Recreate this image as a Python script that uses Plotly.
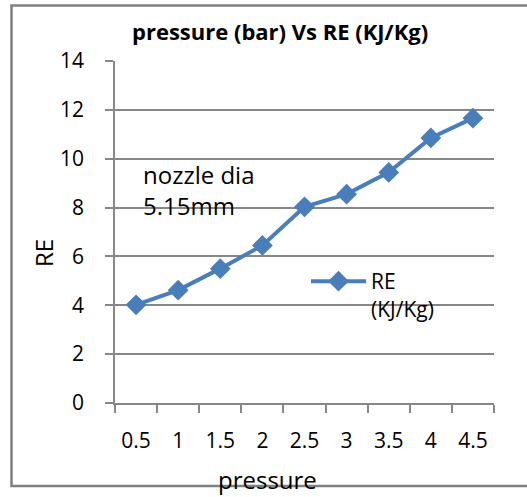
import plotly.graph_objects as go

pressure = ["0.5", "1", "1.5", "2", "2.5", "3", "3.5", "4", "4.5"]
re_values = [4.02, 4.62, 5.5, 6.45, 8.03, 8.55, 9.44, 10.85, 11.66]
y_ticks = [0, 2, 4, 6, 8, 10, 12, 14]

FONT = "Open Sans"
GRID = "#878787"
BLUE = "#4A7EBB"

L, R, T, B = 115, 33, 61, 94
W, H = 527, 497
pw, ph = W - L - R, H - T - B

def px(x):
    return (x - L) / pw

def py(y):
    return (H - B - y) / ph

fig = go.Figure()
fig.add_trace(go.Scatter(
    x=pressure, y=re_values, mode="lines+markers",
    name="RE<br>(KJ/Kg)",
    line=dict(color=BLUE, width=4),
    marker=dict(symbol="diamond", size=16, color=BLUE),
))

fig.update_layout(
    width=W, height=H,
    margin=dict(l=L, r=R, t=T, b=B),
    paper_bgcolor="white", plot_bgcolor="white",
    font=dict(family=FONT, size=21, color="black"),
    showlegend=True,
    legend=dict(x=px(306), y=py(261), xanchor="left", yanchor="top",
                bgcolor="rgba(0,0,0,0)", font=dict(size=21, family=FONT),
                itemwidth=55, valign="top", tracegroupgap=0),
    xaxis=dict(type="category", tickson="boundaries", ticks="outside",
               range=[-0.5, len(pressure) - 0.5],
               ticklen=8, tickcolor=GRID, tickwidth=1.5, showline=True,
               linecolor=GRID, linewidth=1.5, showgrid=False, tickangle=0,
               tickfont=dict(size=21), ticklabelstandoff=18, fixedrange=True),
    yaxis=dict(range=[0, 14], tickvals=y_ticks, ticks="outside", ticklen=8,
               tickcolor=GRID, tickwidth=1.5, showline=True, linecolor=GRID,
               linewidth=1.5, showgrid=True, gridcolor=GRID, gridwidth=1.5,
               tickfont=dict(size=21), ticklabelstandoff=17, zeroline=False,
               fixedrange=True),
    shapes=[dict(type="rect", xref="paper", yref="paper",
                 x0=px(11.5), x1=px(535), y0=py(486), y1=py(5.5),
                 line=dict(color="#808080", width=2.5), fillcolor="rgba(0,0,0,0)",
                 layer="below")],
    annotations=[
        dict(text="<b>pressure (bar) Vs RE (KJ/Kg)</b>", xref="paper", yref="paper",
             x=px(280), y=py(31), xanchor="center", yanchor="middle",
             showarrow=False, font=dict(size=22)),
        dict(text="nozzle dia<br>5.15mm", xref="paper", yref="paper",
             x=px(141), y=py(190), xanchor="left", yanchor="middle",
             align="left", showarrow=False, font=dict(size=24)),
        dict(text="RE", xref="paper", yref="paper", x=px(43), y=py(253),
             xanchor="center", yanchor="middle",
             textangle=-90, showarrow=False, font=dict(size=24)),
        dict(text="pressure", xref="paper", yref="paper", x=px(267), y=py(479),
             xanchor="center", yanchor="middle",
             showarrow=False, font=dict(size=24)),
    ],
)

fig.write_html("out.html", config={"displayModeBar": False},
               post_script="document.body.style.margin='0';")
